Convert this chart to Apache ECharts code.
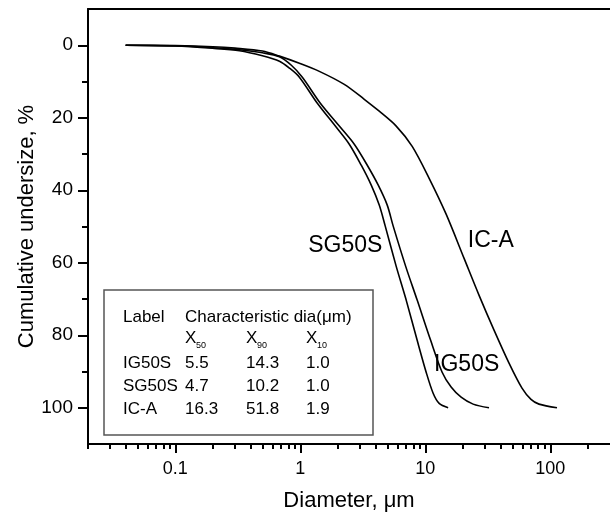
<!DOCTYPE html>
<html><head><meta charset="utf-8">
<script src="https://cdn.jsdelivr.net/npm/echarts@6/dist/echarts.min.js"></script>
<style>html,body{margin:0;padding:0;background:#fff}#c{width:610px;height:512px}</style>
</head><body><div id="c"></div>
<script>
const FONT = "'Liberation Sans', Arial, sans-serif";

// ---- data ----
const sgDiameter  = [0.04, 0.1, 0.198, 0.326, 0.497, 0.68, 0.817, 0.982, 1.367, 1.904, 2.462, 3.07, 3.69, 4.276, 4.776, 5.845, 7.025, 8.6,  10.15, 11.54, 12.89, 15.21];
const sgUndersize = [0,    0.2, 0.83,  1.5,   2.9,   4.4,  6.3,   8.8,   16.0,  22.3,  27.3,  33.1, 38.6, 44.1,  49.9,  61.0,  70.3,  81.4, 90.2,  96.0,  98.8,  100];

const igDiameter  = [0.04, 0.1,  0.198, 0.326, 0.497, 0.68, 0.847, 1.037, 1.445, 2.049, 2.7,  3.43, 4.198, 4.954, 5.53, 6.96, 8.6,  11.02, 13.62, 16.07, 19.32, 24.09, 32.3];
const igUndersize = [0,    0.15, 0.69,  1.24,  2.07,  3.17, 5.52,  8.83,  16.0,  22.3,  27.3, 33.1, 38.6,  44.1,  49.9, 61.0, 70.3, 81.4,  90.2,  94.3,  97.1,  99.0,  100];

const icDiameter  = [0.04, 0.1, 0.2, 0.3, 0.497, 0.68, 0.982, 1.418, 2.246, 3.245, 4.276, 5.845, 7.847, 10.72, 14.66, 20.41, 26.9, 35.43, 46.7, 59.3, 70.0, 81.1, 113];
const icUndersize = [0,    0.1, 0.4, 0.8, 1.6,   3.0,  4.97,  7.2,   10.8,  14.9,  18.2,  22.3,  27.9,  36.7,  46.6,  58.8,  69.0, 78.6,  87.7, 94.6, 97.7, 99.0, 100];

const xMajorTicks = [0.1, 1, 10, 100];
const xMinorTicks = [0.02,0.03,0.04,0.05,0.06,0.07,0.08,0.09, 0.2,0.3,0.4,0.5,0.6,0.7,0.8,0.9, 2,3,4,5,6,7,8,9, 20,30,40,50,60,70,80,90, 200];
const yMajorTicks = [0, 20, 40, 60, 80, 100];
const yMinorTicks = [10, 30, 50, 70, 90];

const curveLabels = [
  {name: 'SG50S', at: [2.29, 55.2]},
  {name: 'IG50S', at: [21.4, 88.0]},
  {name: 'IC-A',  at: [33.4, 54.0]}
];

const tableHead = ['Label', 'Characteristic dia(μm)'];
const tableSubs = ['50', '90', '10'];
const tableLabels = ['IG50S', 'SG50S', 'IC-A'];
const tableX50 = ['5.5', '4.7', '16.3'];
const tableX90 = ['14.3', '10.2', '51.8'];
const tableX10 = ['1.0', '1.0', '1.9'];

// ---- build ----
const zip = (a, b) => a.map((v, i) => [v, b[i]]);
const series = [
  {name: 'SG50S', d: zip(sgDiameter, sgUndersize)},
  {name: 'IG50S', d: zip(igDiameter, igUndersize)},
  {name: 'IC-A',  d: zip(icDiameter, icUndersize)}
].map(s => {
  const lab = curveLabels.find(c => c.name === s.name);
  return {
    type: 'line', name: s.name, data: s.d, xAxisIndex: 0, yAxisIndex: 0,
    showSymbol: false, smooth: 0.3, clip: false,
    lineStyle: {color: '#000', width: 1.6},
    markPoint: {
      symbol: 'circle', symbolSize: 1, itemStyle: {color: 'rgba(0,0,0,0)'},
      label: {show: true, position: 'inside', color: '#000', fontSize: 23, fontFamily: FONT, formatter: lab.name},
      data: [{coord: lab.at}]
    }
  };
});

const tx = (text, x, y, size, align) => ({
  type: 'text', x: x, y: y, z: 20,
  style: {text: text, fill: '#000', font: size + 'px ' + FONT, textAlign: align || 'left', textVerticalAlign: 'middle'}
});
const colX = [185, 246, 306];
const rowY = [363, 386, 409];
const graphics = [
  {type: 'rect', z: 15, shape: {x: 104, y: 290, width: 269, height: 145}, style: {fill: '#fff', stroke: '#555', lineWidth: 1.5}},
  tx(tableHead[0], 123, 317, 17),
  tx(tableHead[1], 185, 317, 17)
];
tableSubs.forEach((s, i) => {
  graphics.push(tx('X', colX[i], 338, 17));
  graphics.push(tx(s, colX[i] + 11, 346, 9));
});
tableLabels.forEach((l, i) => {
  graphics.push(tx(l, 123, rowY[i], 17));
  graphics.push(tx(tableX50[i], colX[0], rowY[i], 17));
  graphics.push(tx(tableX90[i], colX[1], rowY[i], 17));
  graphics.push(tx(tableX10[i], colX[2], rowY[i], 17));
});

const X_MIN = 0.02, X_MAX = 300;
const Y_MIN = -10, Y_MAX = 110;
const axisLine = {show: true, onZero: false, lineStyle: {color: '#000', width: 2}};
const option = {
  animation: false,
  backgroundColor: '#fff',
  textStyle: {fontFamily: FONT},
  grid: {left: 88, top: 9, right: 0, bottom: 68, show: false, containLabel: false, outerBoundsMode: 'none'},
  xAxis: [
    {
      type: 'log', logBase: 10, min: X_MIN, max: X_MAX, position: 'bottom',
      axisLine: axisLine, splitLine: {show: false},
      axisTick: {show: true, inside: false, length: 9, lineStyle: {color: '#000', width: 2}, customValues: xMajorTicks},
      axisLabel: {show: true, customValues: xMajorTicks, margin: 16, color: '#000', fontSize: 18, fontFamily: FONT,
        formatter: v => String(+v.toPrecision(3))},
      name: 'Diameter, μm', nameLocation: 'middle', nameGap: 46, nameMoveOverlap: false,
      nameTextStyle: {color: '#000', fontSize: 22, fontFamily: FONT}
    },
    {
      type: 'log', logBase: 10, min: X_MIN, max: X_MAX, position: 'bottom',
      axisLine: {show: false, onZero: false}, splitLine: {show: false}, axisLabel: {show: false},
      axisTick: {show: true, inside: false, length: 5, lineStyle: {color: '#000', width: 2}, customValues: xMinorTicks}
    },
    {
      type: 'log', logBase: 10, min: X_MIN, max: X_MAX, position: 'top',
      axisLine: axisLine, splitLine: {show: false}, axisLabel: {show: false}, axisTick: {show: false}
    }
  ],
  yAxis: [
    {
      type: 'value', inverse: true, min: Y_MIN, max: Y_MAX, interval: 10, position: 'left',
      axisLine: axisLine, splitLine: {show: false},
      axisTick: {show: true, length: 10, lineStyle: {color: '#000', width: 2}, customValues: yMajorTicks},
      axisLabel: {show: true, customValues: yMajorTicks, margin: 15, color: '#000', fontSize: 19, fontFamily: FONT},
      name: 'Cumulative undersize, %', nameLocation: 'middle', nameGap: 50, nameMoveOverlap: false,
      nameTextStyle: {color: '#000', fontSize: 22, fontFamily: FONT}
    },
    {
      type: 'value', inverse: true, min: Y_MIN, max: Y_MAX, interval: 10, position: 'left',
      axisLine: {show: false, onZero: false}, splitLine: {show: false}, axisLabel: {show: false},
      axisTick: {show: true, length: 6, lineStyle: {color: '#000', width: 2}, customValues: yMinorTicks}
    }
  ],
  series: series,
  graphic: graphics
};
const chart = echarts.init(document.getElementById('c'), null, {renderer: 'canvas'});
chart.setOption(option);
</script></body></html>
